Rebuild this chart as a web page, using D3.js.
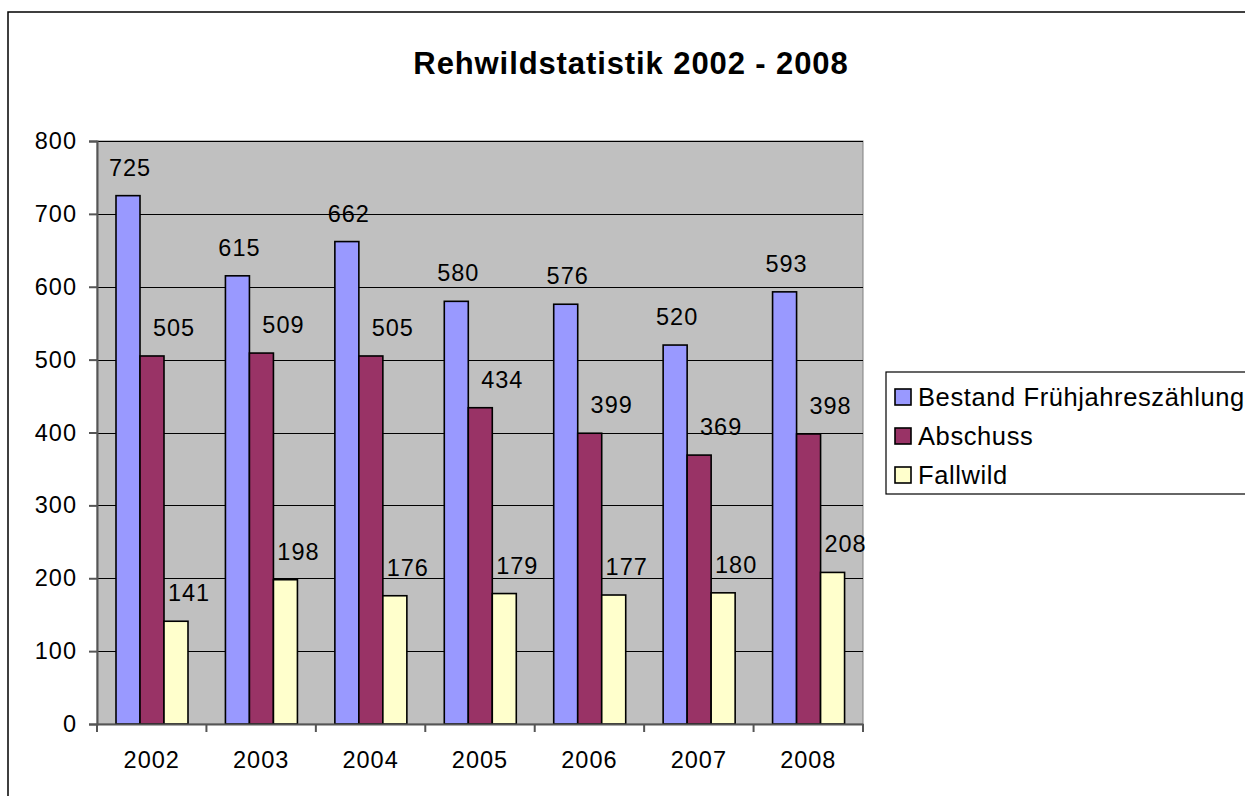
<!DOCTYPE html>
<html>
<head>
<meta charset="utf-8">
<script src="https://cdn.jsdelivr.net/npm/d3@7"></script>
<style>
  html, body { margin: 0; padding: 0; background: #fff; }
  svg { display: block; }
  text { font-family: "Liberation Sans", Arial, sans-serif; fill: #000; }
</style>
</head>
<body>
<svg id="chart" width="1245" height="796"></svg>
<script>
const title = "Rehwildstatistik 2002 - 2008";
const years = ["2002", "2003", "2004", "2005", "2006", "2007", "2008"];
const seriesNames = ["Bestand Frühjahreszählung", "Abschuss", "Fallwild"];
const bestand = [725, 615, 662, 580, 576, 520, 593];
const abschuss = [505, 509, 505, 434, 399, 369, 398];
const fallwild = [141, 198, 176, 179, 177, 180, 208];
const yTicks = [0, 100, 200, 300, 400, 500, 600, 700, 800];
const colors = ["#9999FF", "#993366", "#FFFFCC"];

const seriesValues = [bestand, abschuss, fallwild];
const labelDx = [2, 22, 13];

const svg = d3.select("#chart");

// outer chart border
svg.append("rect")
  .attr("x", 8).attr("y", 12)
  .attr("width", 1260).attr("height", 800)
  .attr("fill", "#fff").attr("stroke", "#000").attr("stroke-width", 1.5);

const plot = { left: 97, right: 863, top: 141, bottom: 724 };

const x0 = d3.scaleBand().domain(years).range([plot.left, plot.right]);
const x1 = d3.scaleBand().domain(seriesNames).range([19, 91]);
const y = d3.scaleLinear().domain([0, 800]).range([plot.bottom, plot.top]);

// plot background
svg.append("rect")
  .attr("x", plot.left).attr("y", plot.top)
  .attr("width", plot.right - plot.left).attr("height", plot.bottom - plot.top)
  .attr("fill", "#C0C0C0").attr("stroke", "#808080").attr("stroke-width", 1);

// gridlines
svg.append("g").selectAll("line")
  .data(yTicks.filter(t => t > 0))
  .join("line")
  .attr("x1", plot.left).attr("x2", plot.right)
  .attr("y1", d => Math.round(y(d)) + 0.5).attr("y2", d => Math.round(y(d)) + 0.5)
  .attr("stroke", "#000").attr("stroke-width", 1);

// bars
const data = [];
years.forEach((yr, i) => {
  seriesNames.forEach((s, j) => {
    data.push({ year: yr, series: s, j: j, value: seriesValues[j][i] });
  });
});

svg.append("g").selectAll("rect")
  .data(data)
  .join("rect")
  .attr("x", d => x0(d.year) + x1(d.series))
  .attr("y", d => y(d.value))
  .attr("width", x1.bandwidth())
  .attr("height", d => y(0) - y(d.value))
  .attr("fill", d => colors[d.j])
  .attr("stroke", "#000").attr("stroke-width", 1.6);

// data labels
svg.append("g").selectAll("text")
  .data(data)
  .join("text")
  .attr("x", d => x0(d.year) + x1(d.series) + x1.bandwidth() / 2 + labelDx[d.j])
  .attr("y", d => y(d.value) - 20)
  .attr("text-anchor", "middle")
  .attr("font-size", 23.5)
  .attr("letter-spacing", 1)
  .text(d => d.value);

// y axis
const yAxis = d3.axisLeft(y).tickValues(yTicks).tickSize(8).tickPadding(12);
const gy = svg.append("g").attr("transform", `translate(${plot.left},0)`).call(yAxis);
gy.select(".domain").attr("stroke", "#555").attr("stroke-width", 2);
gy.selectAll(".tick line").attr("stroke", "#555").attr("stroke-width", 2);
gy.selectAll(".tick text")
  .attr("font-size", 23.5).attr("letter-spacing", 1)
  .attr("font-family", "Liberation Sans, Arial, sans-serif").attr("fill", "#000");

// x axis
const xAxis = d3.axisBottom(x0).tickSize(0).tickPadding(27);
const gx = svg.append("g").attr("transform", `translate(0,${plot.bottom})`).call(xAxis);
gx.select(".domain").attr("stroke", "#555").attr("stroke-width", 2);
gx.selectAll(".tick text")
  .attr("font-size", 23.5).attr("letter-spacing", 1)
  .attr("font-family", "Liberation Sans, Arial, sans-serif").attr("fill", "#000");
// category separator ticks
svg.append("g").selectAll("line")
  .data(years.concat(["end"]))
  .join("line")
  .attr("x1", (d, i) => i < years.length ? x0(d) : plot.right)
  .attr("x2", (d, i) => i < years.length ? x0(d) : plot.right)
  .attr("y1", plot.bottom).attr("y2", plot.bottom + 8)
  .attr("stroke", "#555").attr("stroke-width", 2);

// title
svg.append("text")
  .attr("x", 631).attr("y", 74)
  .attr("text-anchor", "middle")
  .attr("font-size", 31).attr("font-weight", "bold")
  .attr("letter-spacing", 0.9)
  .text(title);

// legend
const lg = svg.append("g");
lg.append("rect")
  .attr("x", 886).attr("y", 372)
  .attr("width", 400).attr("height", 122)
  .attr("fill", "#fff").attr("stroke", "#000").attr("stroke-width", 1.2);
const rowY = [397, 436, 475];
const items = lg.selectAll("g.item").data(seriesNames).join("g").attr("class", "item")
  .attr("transform", (d, i) => `translate(895,${rowY[i]})`);
items.append("rect")
  .attr("x", 0).attr("y", -8).attr("width", 16).attr("height", 16)
  .attr("fill", (d, i) => colors[i]).attr("stroke", "#000").attr("stroke-width", 1.6);
items.append("text")
  .attr("x", 23).attr("y", 9)
  .attr("font-size", 25.5).attr("letter-spacing", 0.6)
  .text(d => d);
</script>
</body>
</html>
